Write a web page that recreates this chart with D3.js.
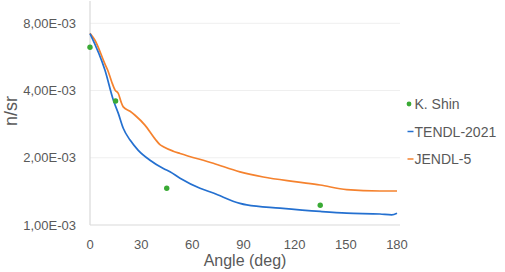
<!DOCTYPE html>
<html>
<head>
<meta charset="utf-8">
<script src="https://cdn.jsdelivr.net/npm/d3@7"></script>
<style>
  body { margin: 0; background: #fff; }
  svg { display: block; font-family: "Liberation Sans", Arial, sans-serif; }
</style>
</head>
<body>
<div id="chart"></div>
<script>
// measured points (angle in deg, value in n/sr)
const shinAngle = [0, 15, 45, 135];
const shinValue = [6.25e-3, 3.59e-3, 1.46e-3, 1.225e-3];

const tendlAngle = [0, 8.8, 13.7, 16.6, 19.5, 23.5, 28.3, 35.2, 43, 46.9, 52.8, 64.5, 72.3, 87.9, 91.9, 111.4, 134.9, 150.5, 170, 176.9, 180];
const tendlValue = [7.2e-3, 4.93e-3, 3.62e-3, 3.16e-3, 2.71e-3, 2.4e-3, 2.16e-3, 1.95e-3, 1.79e-3, 1.73e-3, 1.62e-3, 1.46e-3, 1.39e-3, 1.25e-3, 1.23e-3, 1.19e-3, 1.15e-3, 1.13e-3, 1.12e-3, 1.11e-3, 1.13e-3];

const jendlAngle = [0, 2.9, 8.8, 10.4, 12.7, 14.7, 16.6, 18.2, 19.5, 23.5, 26.4, 32.2, 38.1, 41, 43, 48.8, 52.8, 72.3, 87.9, 101.6, 121.2, 134.9, 150.5, 170, 180];
const jendlValue = [7.22e-3, 6.72e-3, 5.25e-3, 4.93e-3, 4.38e-3, 4.02e-3, 3.88e-3, 3.56e-3, 3.38e-3, 3.23e-3, 3.1e-3, 2.8e-3, 2.43e-3, 2.29e-3, 2.24e-3, 2.14e-3, 2.09e-3, 1.89e-3, 1.73e-3, 1.64e-3, 1.56e-3, 1.51e-3, 1.44e-3, 1.42e-3, 1.42e-3];

const xTicks = [0, 30, 60, 90, 120, 150, 180];
const yTicks = [1e-3, 2e-3, 4e-3, 8e-3];

const legendNames = ['K. Shin', 'TENDL-2021', 'JENDL-5'];
const colors = { shin: '#3aaa35', tendl: '#2470d0', jendl: '#f5822e' };

const width = 505;
const height = 272;

const svg = d3.select('#chart').append('svg')
  .attr('width', width)
  .attr('height', height);

const x = d3.scaleLinear().domain([0, 180]).range([90, 397]);
const y = d3.scaleLog().base(2).domain([1e-3, 8e-3]).range([225, 23.3]);

const fmt = (d) => d.toExponential(2).replace('.', ',').replace(/e-(\d)$/, 'E-0$1').replace('e-', 'E-');

// gridlines
svg.append('g')
  .selectAll('line')
  .data(yTicks.slice(1))
  .join('line')
  .attr('x1', x(0))
  .attr('x2', x(180) + 3)
  .attr('y1', (d) => y(d))
  .attr('y2', (d) => y(d))
  .attr('stroke', '#efefef')
  .attr('stroke-width', 1);

// axis lines
svg.append('line')
  .attr('x1', x(0)).attr('x2', x(0))
  .attr('y1', 1).attr('y2', y(1e-3))
  .attr('stroke', '#d9d9d9').attr('stroke-width', 1.2);
svg.append('line')
  .attr('x1', x(0)).attr('x2', x(180) + 3)
  .attr('y1', y(1e-3)).attr('y2', y(1e-3))
  .attr('stroke', '#d9d9d9').attr('stroke-width', 1.2);

// y tick labels
svg.append('g')
  .selectAll('text')
  .data(yTicks)
  .join('text')
  .attr('x', 76)
  .attr('y', (d) => y(d))
  .attr('dy', '0.35em')
  .attr('text-anchor', 'end')
  .attr('font-size', 13)
  .attr('fill', '#595959')
  .text(fmt);

// x tick labels
svg.append('g')
  .selectAll('text')
  .data(xTicks)
  .join('text')
  .attr('x', (d) => x(d))
  .attr('y', 249)
  .attr('text-anchor', 'middle')
  .attr('font-size', 13)
  .attr('fill', '#595959')
  .text((d) => d);

// axis titles
svg.append('text')
  .attr('x', 245)
  .attr('y', 266)
  .attr('text-anchor', 'middle')
  .attr('font-size', 16)
  .attr('fill', '#595959')
  .text('Angle (deg)');

svg.append('text')
  .attr('transform', 'translate(17,111) rotate(-90)')
  .attr('text-anchor', 'middle')
  .attr('font-size', 18)
  .attr('fill', '#595959')
  .text('n/sr');

// curves
const line = d3.line()
  .x((d) => x(d[0]))
  .y((d) => y(d[1]))
  .curve(d3.curveMonotoneX);

svg.append('path')
  .datum(d3.zip(jendlAngle, jendlValue))
  .attr('fill', 'none')
  .attr('stroke', colors.jendl)
  .attr('stroke-width', 1.7)
  .attr('d', line);

svg.append('path')
  .datum(d3.zip(tendlAngle, tendlValue))
  .attr('fill', 'none')
  .attr('stroke', colors.tendl)
  .attr('stroke-width', 1.7)
  .attr('d', line);

// measured points
svg.append('g')
  .selectAll('circle')
  .data(d3.zip(shinAngle, shinValue))
  .join('circle')
  .attr('cx', (d) => x(d[0]))
  .attr('cy', (d) => y(d[1]))
  .attr('r', 2.7)
  .attr('fill', colors.shin);

// legend
const legend = svg.append('g');
const legendY = [104, 131.5, 159];
const legendColors = [colors.shin, colors.tendl, colors.jendl];

legend.append('circle')
  .attr('cx', 409).attr('cy', legendY[0])
  .attr('r', 2.4).attr('fill', colors.shin);

legend.selectAll('line')
  .data([1, 2])
  .join('line')
  .attr('x1', 407.5).attr('x2', 413.5)
  .attr('y1', (i) => legendY[i]).attr('y2', (i) => legendY[i])
  .attr('stroke', (i) => legendColors[i])
  .attr('stroke-width', 1.5);

legend.selectAll('text')
  .data(legendNames)
  .join('text')
  .attr('x', 414.5)
  .attr('y', (d, i) => legendY[i])
  .attr('dy', '0.36em')
  .attr('font-size', 14)
  .attr('fill', '#595959')
  .text((d) => d);
</script>
</body>
</html>
